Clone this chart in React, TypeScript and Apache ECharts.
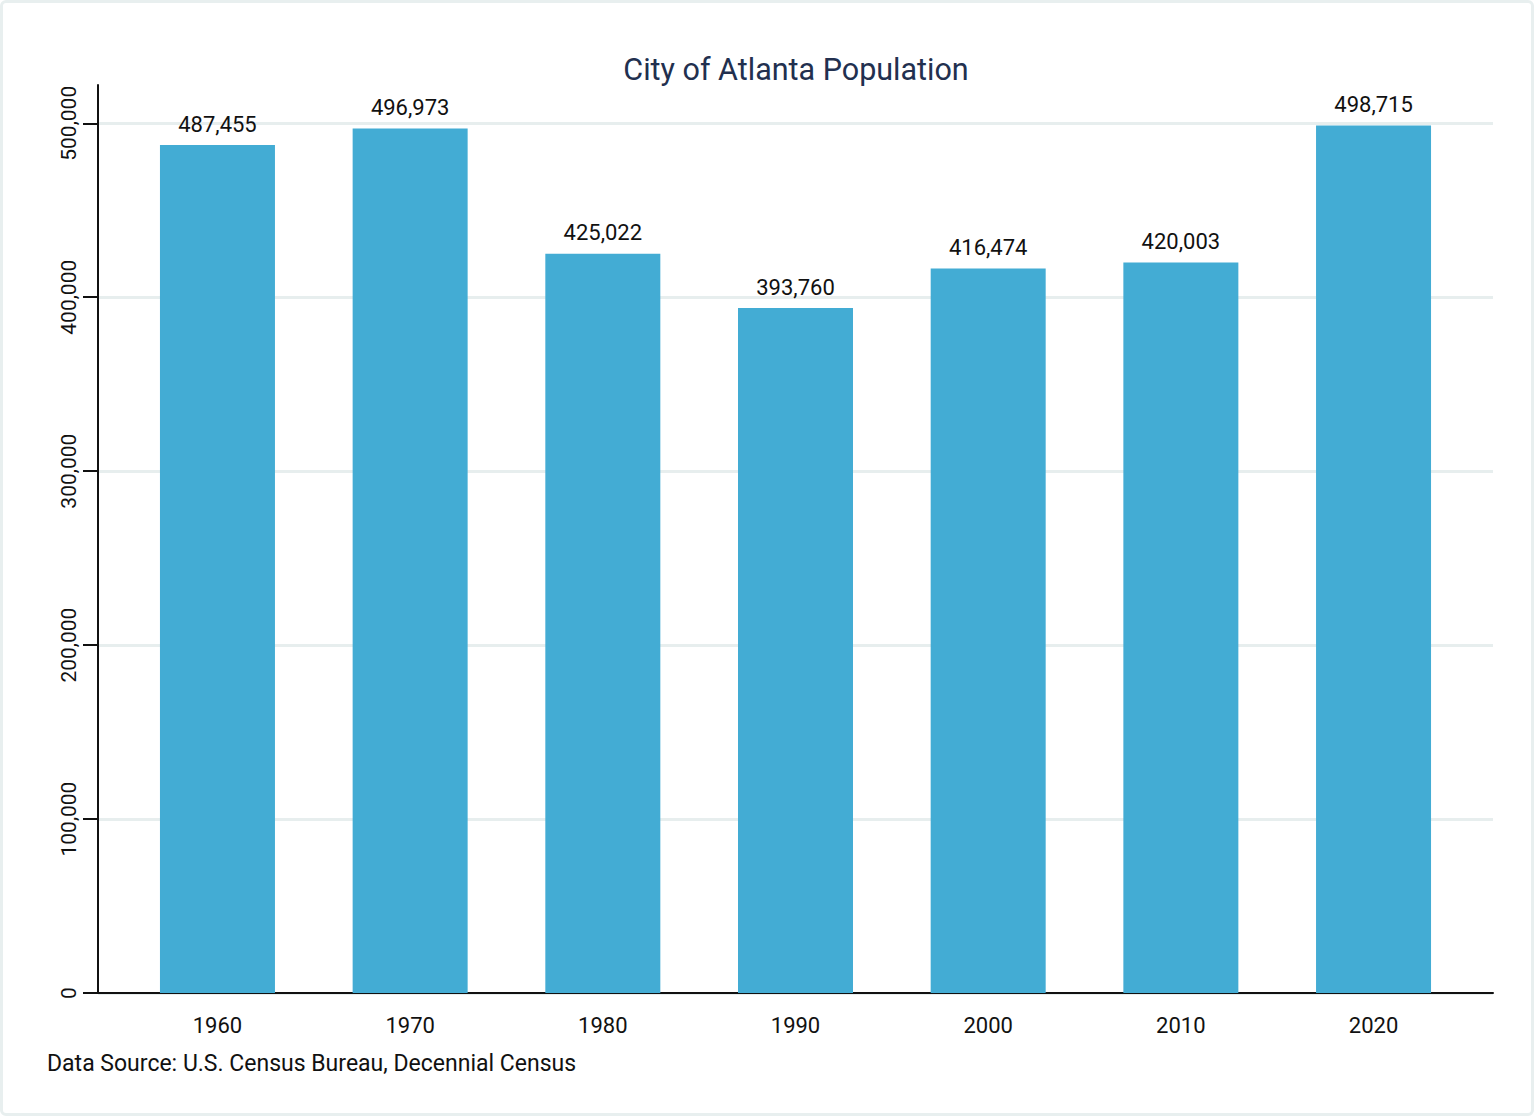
import React, { useEffect, useRef } from "react";
import * as echarts from "echarts";

const years = [1960, 1970, 1980, 1990, 2000, 2010, 2020];
const population = [487455, 496973, 425022, 393760, 416474, 420003, 498715];
const yTicks = [0, 100000, 200000, 300000, 400000, 500000];

const titleText = "City of Atlanta Population";
const sourceText = "Data Source: U.S. Census Bureau, Decennial Census";

const FONT = "Roboto, 'DejaVu Sans', sans-serif";
const fmt = (v: number) => v.toLocaleString("en-US");

export default function App() {
  const ref = useRef<HTMLDivElement>(null);

  useEffect(() => {
    if (!ref.current) return;
    const chart = echarts.init(ref.current, undefined, { renderer: "svg" });
    chart.setOption({
      animation: false,
      backgroundColor: "#ffffff",
      grid: { left: 98, right: 41, top: 85, bottom: 123 },
      xAxis: {
        type: "value",
        min: 1953.8,
        max: 2026.2,
        splitLine: { show: false },
        axisLine: { show: true, lineStyle: { color: "#111", width: 2 } },
        axisTick: { show: false },
        axisLabel: {
          customValues: years,
          formatter: (v: number) => String(v),
          fontFamily: FONT,
          fontSize: 22,
          color: "#111",
          margin: 21,
        },
      },
      yAxis: {
        type: "value",
        min: 0,
        max: 522000,
        axisLine: { show: true, lineStyle: { color: "#111", width: 2 } },
        axisTick: {
          show: true,
          customValues: yTicks,
          length: 15,
          lineStyle: { color: "#111", width: 2 },
        },
        axisLabel: {
          customValues: yTicks,
          formatter: (v: number) => fmt(v),
          rotate: 90,
          fontFamily: FONT,
          fontSize: 21,
          color: "#111",
          margin: 19,
        },
        splitLine: {
          show: true,
          lineStyle: { color: "#e7eeee", width: 3 },
        },
      },
      series: [
        {
          type: "bar",
          data: years.map((y, i) => [y, population[i]]),
          barWidth: 115,
          itemStyle: { color: "#43acd4" },
          label: {
            show: true,
            position: "top",
            distance: 10,
            formatter: (p: any) => fmt(p.value[1]),
            fontFamily: FONT,
            fontSize: 22,
            color: "#111",
          },
        },
      ],
      graphic: [
        {
          type: "text",
          x: 796,
          y: 69,
          style: {
            text: titleText,
            fontFamily: FONT,
            fontSize: 30.5,
            fill: "#22304f",
            textAlign: "center",
            textVerticalAlign: "middle",
          },
        },
        {
          type: "text",
          x: 47,
          y: 1063,
          style: {
            text: sourceText,
            fontFamily: FONT,
            fontSize: 23,
            fill: "#111",
            textAlign: "left",
            textVerticalAlign: "middle",
          },
        },
      ],
    });
    return () => chart.dispose();
  }, []);

  return (
    <div style={{ position: "fixed", left: 0, top: 0, width: 1534, height: 1116 }}>
      <div ref={ref} style={{ position: "absolute", left: 0, top: 0, width: 1534, height: 1116 }} />
      <div
        style={{
          position: "absolute",
          left: 0,
          top: 0,
          width: 1534,
          height: 1116,
          boxSizing: "border-box",
          border: "3px solid #e8efef",
          borderRadius: 6,
          pointerEvents: "none",
        }}
      />
    </div>
  );
}
